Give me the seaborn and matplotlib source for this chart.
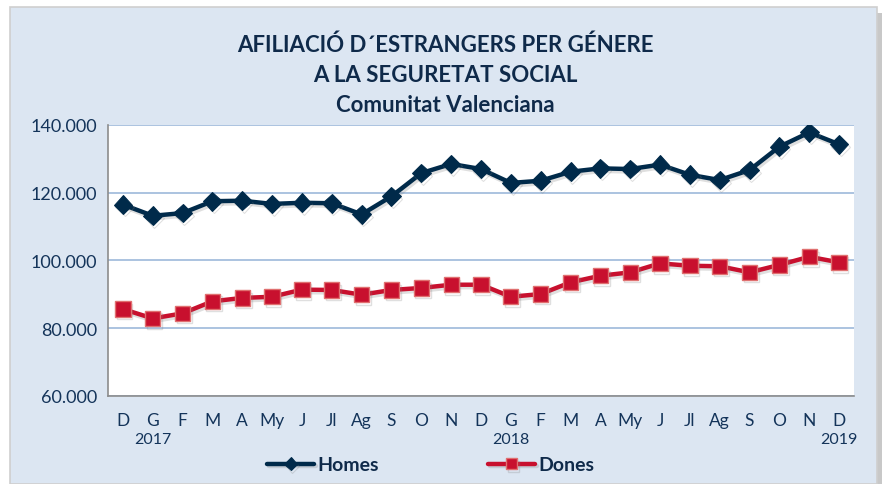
import matplotlib
matplotlib.use("Agg")
import matplotlib.pyplot as plt
import matplotlib.patheffects as pe
from matplotlib.patches import Rectangle
from matplotlib.ticker import FuncFormatter, MultipleLocator
import seaborn as sb
import pandas as pd

# Data
months = ["D", "G", "F", "M", "A", "My", "J", "Jl", "Ag", "S", "O", "N",
          "D", "G", "F", "M", "A", "My", "J", "Jl", "Ag", "S", "O", "N", "D"]
years = {1: "2017", 13: "2018", 24: "2019"}
homes = [116500, 113200, 114000, 117500, 117650, 116700, 117050, 116900,
         113600, 118950, 125800, 128500, 127000, 122900, 123550, 126200,
         127200, 127000, 128300, 125300, 123750, 126700, 133600, 137800, 134300]
dones = [85650, 82900, 84400, 87950, 88950, 89300, 91400, 91300,
         89900, 91300, 91900, 92850, 92850, 89300, 90100, 93550,
         95500, 96500, 99150, 98450, 98300, 96500, 98700, 101100, 99450]

navy = "#002A4A"
red = "#C8102E"
txt = "#14345A"
ttl = "#0F2A4A"
bg = "#DCE6F2"

df = pd.DataFrame({"pos": range(len(months)), "Homes": homes, "Dones": dones})

sb.set_style("white")
plt.rcParams["font.family"] = ["Lato", "DejaVu Sans"]

fig = plt.figure(figsize=(8.84, 4.85), dpi=100)
fig.patch.set_facecolor("white")
# outer chart panel
fig.patches.append(Rectangle((10 / 884, 0), 867 / 884, 1 - 8 / 485,
                             transform=fig.transFigure, facecolor=bg,
                             edgecolor="#CFCFCF", linewidth=1.2, zorder=-10))
fig.patches.append(Rectangle((877 / 884, 0), 5 / 884, 1 - 14 / 485,
                             transform=fig.transFigure, facecolor="#C8C8C8",
                             edgecolor="none", zorder=-11))

ax = fig.add_axes([108 / 884, 1 - 397 / 485, 746 / 884, 271 / 485])
ax.set_facecolor("white")

shadow = [pe.SimpleLineShadow(offset=(1.2, -1.8), shadow_color="gray", alpha=0.25),
          pe.Normal()]

sb.lineplot(data=df, x="pos", y="Homes", ax=ax, color=navy, linewidth=3.2,
            marker="D", markersize=9.5, markeredgecolor=navy,
            label="Homes", zorder=4, path_effects=shadow)
sb.lineplot(data=df, x="pos", y="Dones", ax=ax, color=red, linewidth=3.2,
            marker="s", markersize=11, markeredgecolor="#E07070",
            markeredgewidth=1, label="Dones", zorder=3, path_effects=shadow)

ax.set_xlim(-0.5, len(months) - 0.5)
ax.set_ylim(60000, 140000)
ax.yaxis.set_major_locator(MultipleLocator(20000))
ax.yaxis.set_major_formatter(FuncFormatter(lambda v, p: f"{int(v):,}".replace(",", ".")))
ax.grid(axis="y", color="#95B3D7", linewidth=1.1)
ax.set_axisbelow(True)

for s in ["top", "right"]:
    ax.spines[s].set_visible(False)
for s in ["left", "bottom"]:
    ax.spines[s].set_color("#8C8C8C")
    ax.spines[s].set_linewidth(1.2)

# ticks between categories
ax.set_xticks([i - 0.5 for i in range(len(months) + 1)], minor=False)
ax.set_xticklabels([])
ax.tick_params(axis="x", which="major", direction="out", length=5,
               color="#8C8C8C", width=1.2)
ax.tick_params(axis="y", direction="out", length=5, color="#8C8C8C",
               width=1.2, labelsize=13, labelcolor=txt, pad=3)
for i, m in enumerate(months):
    ax.text(i, -0.09, m, transform=ax.get_xaxis_transform(), ha="center",
            va="center", fontsize=12.5, color=txt)
for i, y in years.items():
    ax.text(i, -0.158, y, transform=ax.get_xaxis_transform(), ha="center",
            va="center", fontsize=11.5, color=txt)
ax.set_xlabel("")
ax.set_ylabel("")

# title
for yy, line in [(45, "AFILIACIÓ D´ESTRANGERS PER GÉNERE"),
                 (75, "A LA SEGURETAT SOCIAL"),
                 (106, "Comunitat Valenciana")]:
    fig.text(445 / 884, 1 - yy / 485, line, ha="center", va="center",
             fontsize=16, fontweight="bold", color=ttl)

# legend
ax.get_legend().remove()
h, l = ax.get_legend_handles_labels()
leg = fig.legend(h, l, loc="center", bbox_to_anchor=(431 / 884, 1 - 466 / 485),
                 ncol=2, frameon=False, handlelength=2.4, columnspacing=5.6,
                 handletextpad=0.2, markerscale=0.7,
                 prop={"size": 14, "weight": "bold"})
for t in leg.get_texts():
    t.set_color(ttl)

fig.savefig("out.png", dpi=100, facecolor=fig.get_facecolor())
